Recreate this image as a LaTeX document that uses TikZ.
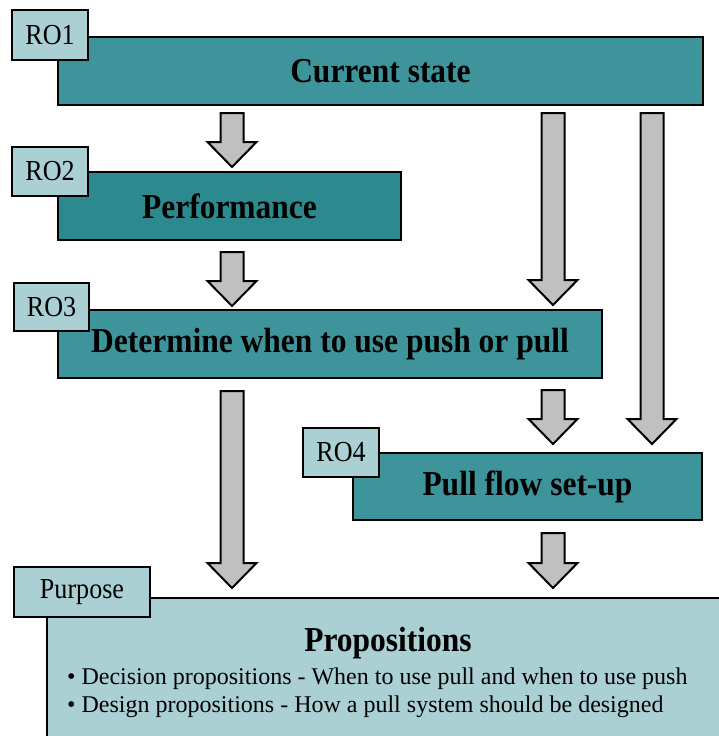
\documentclass[tikz,border=0pt]{standalone}
\usepackage{fontspec}
\setmainfont[FakeStretch=0.9]{Liberation Serif}
\newfontfamily\bodyserif{Liberation Serif}
\usetikzlibrary{calc}

\definecolor{tealbox}{RGB}{62,148,155}
\definecolor{tealdark}{RGB}{44,138,143}
\definecolor{paletag}{RGB}{170,208,212}
\definecolor{arrowgray}{RGB}{192,192,192}

\tikzset{
  stagebox/.style={draw=black, line width=2.4pt, fill=tealbox, anchor=north west,
    inner sep=0pt, outer sep=0pt, font=\fontsize{35}{40}\selectfont\bfseries},
  tagbox/.style={draw=black, line width=2.4pt, fill=paletag, anchor=north west,
    inner sep=0pt, outer sep=0pt, font=\fontsize{29}{32}\selectfont},
  bulletline/.style={font=\bodyserif\fontsize{24}{28}\selectfont, anchor=base west, inner sep=0pt},
  barrow/.style={draw=black, line width=2pt, fill=arrowgray, line join=miter},
}

% block arrow: #1 = x position, #2 = upper node, #3 = lower node,
% #4 = gap below the upper node, #5 = gap above the lower node
\newcommand\blockarr[5]{%
  \draw[barrow] let \p1=(#2.south), \p2=(#3.north) in
    (#1pt-11.5pt,\y1-#4pt) -- (#1pt+11.5pt,\y1-#4pt)
    -- (#1pt+11.5pt,\y2+#5pt+25pt) -- (#1pt+24.5pt,\y2+#5pt+25pt)
    -- (#1pt,\y2+#5pt) -- (#1pt-24.5pt,\y2+#5pt+25pt)
    -- (#1pt-11.5pt,\y2+#5pt+25pt) -- cycle;}

\begin{document}
\begin{tikzpicture}[x=1pt,y=-1pt]
\clip (0,0) rectangle (719,736);
\fill[white] (0,0) rectangle (719,736);

% stages
\node[stagebox, minimum width=645pt, minimum height=68pt] (cs) at (58,37) {Current state};
\node[stagebox, fill=tealdark, minimum width=343pt, minimum height=68pt] (perf) at (58,172) {Performance};
\node[stagebox, minimum width=544pt, minimum height=68pt] (det) at (58,310) {Determine when to use push or pull};
\node[stagebox, minimum width=349pt, minimum height=67pt] (pull) at (353,453) {Pull flow set-up};

% outcome box
\node[draw=black, line width=2.4pt, fill=paletag, anchor=north west, inner sep=0pt,
  minimum width=690pt, minimum height=170pt] (prop) at (46,597) {};
\node[font=\fontsize{35}{40}\selectfont\bfseries, anchor=base] (ptitle) at (388,651) {Propositions};
\node[bulletline] (b1) at (67,684)
  {\textbullet\ Decision propositions - When to use pull and when to use push};
\node[bulletline] (b2) at (67,712)
  {\textbullet\ Design propositions - How a pull system should be designed};

% labels
\node[tagbox, minimum width=76pt, minimum height=50pt] (t1) at (12,10) {RO1};
\node[tagbox, minimum width=76pt, minimum height=49pt] (t2) at (12,147) {RO2};
\node[tagbox, minimum width=75pt, minimum height=48pt] (t3) at (14,283) {RO3};
\node[tagbox, minimum width=76pt, minimum height=49pt] (t4) at (303,428) {RO4};
\node[tagbox, minimum width=136pt, minimum height=50pt] (tp) at (14,567) {Purpose};

% flow arrows
\blockarr{232}{cs}{perf}{8}{5}
\blockarr{232}{perf}{det}{12}{4}
\blockarr{553}{cs}{det}{8}{5}
\blockarr{652}{cs}{pull}{8}{9}
\blockarr{553}{det}{pull}{12}{9}
\blockarr{232}{det}{prop}{13}{9}
\blockarr{553}{pull}{prop}{13}{9}
\end{tikzpicture}
\end{document}
